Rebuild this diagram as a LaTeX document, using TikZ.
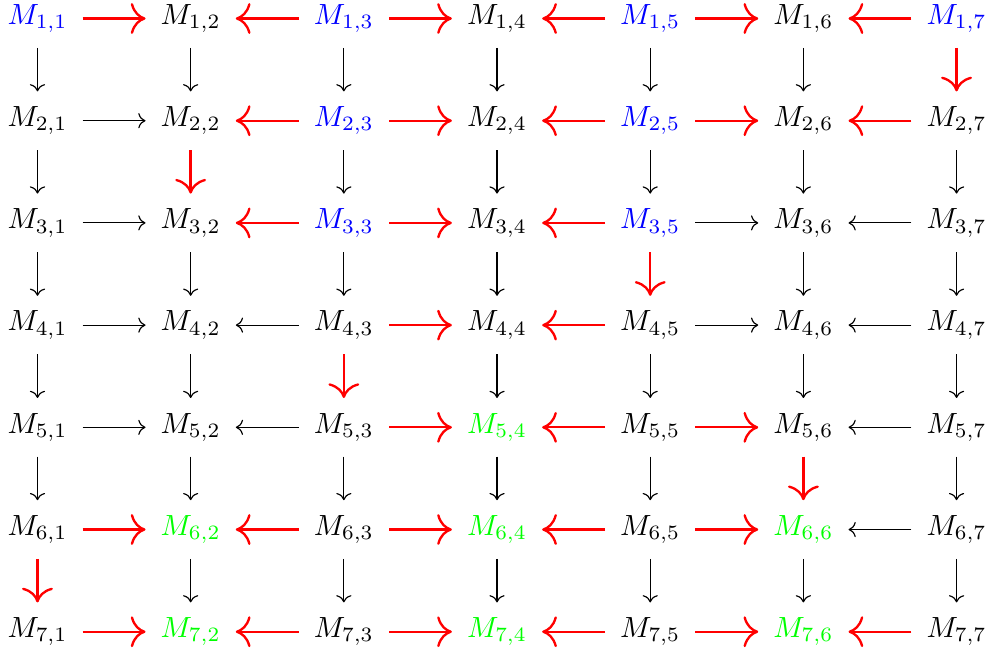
\documentclass[tikz,border=0pt]{standalone}
\usepackage{amsmath,amssymb}
\usepackage{xcolor}
\usepackage{tikz}
\usetikzlibrary{arrows.meta}
\tikzset{
  mn/.style={inner sep=3pt},
  arr/.style={-{To},shorten <=2pt,shorten >=2pt},
  rarr/.style={-{To[scale=1.5]},thick,red,shorten <=2pt,shorten >=2pt},
}

\begin{document}
\begin{tikzpicture}[x=1.845cm,y=-1.231cm]
\useasboundingbox (-0.2447,-0.1811) rectangle (6.2183,6.1609);
% row 1
\node[mn,blue] (m11) at (0,0) {$M_{1,1}$};
\node[mn] (m12) at (1,0) {$M_{1,2}$};
\node[mn,blue] (m13) at (2,0) {$M_{1,3}$};
\node[mn] (m14) at (3,0) {$M_{1,4}$};
\node[mn,blue] (m15) at (4,0) {$M_{1,5}$};
\node[mn] (m16) at (5,0) {$M_{1,6}$};
\node[mn,blue] (m17) at (6,0) {$M_{1,7}$};
% row 2
\node[mn] (m21) at (0,1) {$M_{2,1}$};
\node[mn] (m22) at (1,1) {$M_{2,2}$};
\node[mn,blue] (m23) at (2,1) {$M_{2,3}$};
\node[mn] (m24) at (3,1) {$M_{2,4}$};
\node[mn,blue] (m25) at (4,1) {$M_{2,5}$};
\node[mn] (m26) at (5,1) {$M_{2,6}$};
\node[mn] (m27) at (6,1) {$M_{2,7}$};
% row 3
\node[mn] (m31) at (0,2) {$M_{3,1}$};
\node[mn] (m32) at (1,2) {$M_{3,2}$};
\node[mn,blue] (m33) at (2,2) {$M_{3,3}$};
\node[mn] (m34) at (3,2) {$M_{3,4}$};
\node[mn,blue] (m35) at (4,2) {$M_{3,5}$};
\node[mn] (m36) at (5,2) {$M_{3,6}$};
\node[mn] (m37) at (6,2) {$M_{3,7}$};
% row 4
\node[mn] (m41) at (0,3) {$M_{4,1}$};
\node[mn] (m42) at (1,3) {$M_{4,2}$};
\node[mn] (m43) at (2,3) {$M_{4,3}$};
\node[mn] (m44) at (3,3) {$M_{4,4}$};
\node[mn] (m45) at (4,3) {$M_{4,5}$};
\node[mn] (m46) at (5,3) {$M_{4,6}$};
\node[mn] (m47) at (6,3) {$M_{4,7}$};
% row 5
\node[mn] (m51) at (0,4) {$M_{5,1}$};
\node[mn] (m52) at (1,4) {$M_{5,2}$};
\node[mn] (m53) at (2,4) {$M_{5,3}$};
\node[mn,green] (m54) at (3,4) {$M_{5,4}$};
\node[mn] (m55) at (4,4) {$M_{5,5}$};
\node[mn] (m56) at (5,4) {$M_{5,6}$};
\node[mn] (m57) at (6,4) {$M_{5,7}$};
% row 6
\node[mn] (m61) at (0,5) {$M_{6,1}$};
\node[mn,green] (m62) at (1,5) {$M_{6,2}$};
\node[mn] (m63) at (2,5) {$M_{6,3}$};
\node[mn,green] (m64) at (3,5) {$M_{6,4}$};
\node[mn] (m65) at (4,5) {$M_{6,5}$};
\node[mn,green] (m66) at (5,5) {$M_{6,6}$};
\node[mn] (m67) at (6,5) {$M_{6,7}$};
% row 7
\node[mn] (m71) at (0,6) {$M_{7,1}$};
\node[mn,green] (m72) at (1,6) {$M_{7,2}$};
\node[mn] (m73) at (2,6) {$M_{7,3}$};
\node[mn,green] (m74) at (3,6) {$M_{7,4}$};
\node[mn] (m75) at (4,6) {$M_{7,5}$};
\node[mn,green] (m76) at (5,6) {$M_{7,6}$};
\node[mn] (m77) at (6,6) {$M_{7,7}$};
% black arrows
\foreach \a/\b in {21/22,31/32,35/36,37/36,41/42,43/42,45/46,47/46,51/52,53/52,57/56,67/66}
  \draw[arr] (m\a)--(m\b);
\foreach \a/\b in {11/21,12/22,13/23,14/24,15/25,16/26,
  21/31,23/33,24/34,25/35,26/36,27/37,
  31/41,32/42,33/43,34/44,36/46,37/47,
  41/51,42/52,44/54,45/55,46/56,47/57,
  51/61,52/62,53/63,54/64,55/65,57/67,
  62/72,63/73,64/74,65/75,66/76,67/77}
  \draw[arr] (m\a)--(m\b);
% red arrows
\foreach \a/\b in {11/12,13/12,13/14,15/14,15/16,17/16,
  23/22,23/24,25/24,25/26,27/26,
  33/32,33/34,35/34,
  43/44,45/44,
  53/54,55/54,55/56,
  61/62,63/62,63/64,65/64,65/66,
  71/72,73/72,73/74,75/74,75/76,77/76}
  \draw[rarr] (m\a)--(m\b);
\foreach \a/\b in {17/27,22/32,35/45,43/53,56/66,61/71}
  \draw[rarr] (m\a)--(m\b);
\end{tikzpicture}
\end{document}
